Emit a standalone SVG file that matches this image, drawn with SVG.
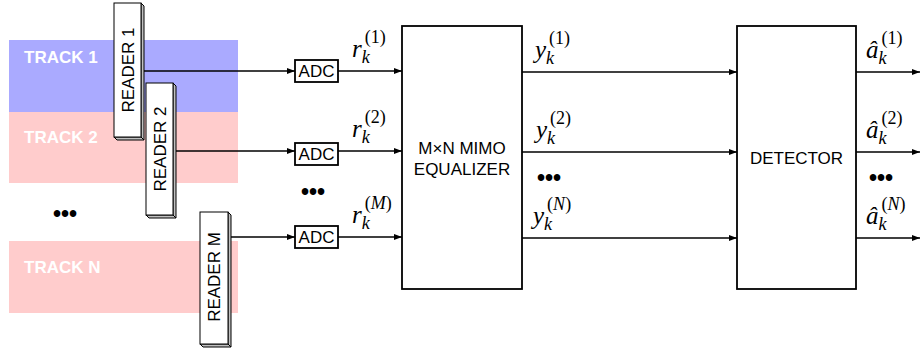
<svg xmlns="http://www.w3.org/2000/svg" width="920" height="354" viewBox="0 0 920 354">
<style>
.track-label{font-family:"Liberation Sans",Arial,sans-serif;font-weight:bold;font-size:17px;fill:#ffffff}
.lbl{font-family:"Liberation Sans",Arial,sans-serif;font-size:17px;fill:#000}
.math{font-family:"Liberation Serif","DejaVu Serif",serif;font-style:italic;font-size:25px;fill:#000}
.sub{font-size:18px}
.up{font-style:normal}
.dots{font-family:"Liberation Sans",Arial,sans-serif;font-weight:bold;font-size:23px;fill:#000}
.box{fill:#fff;stroke:#000;stroke-width:1.8}
.face{fill:#fff;stroke:#000;stroke-width:1}
.side{fill:#c0c0c0;stroke:#000;stroke-width:1}
.wire{stroke:#000;stroke-width:1.6;fill:none}
</style>
<defs>
<marker id="arr" markerWidth="8" markerHeight="6" refX="8" refY="3" orient="auto" markerUnits="userSpaceOnUse">
<path d="M0,0 L8,3 L0,6 Z" fill="#000"/>
</marker>
</defs>
<g id="tracks">
<rect x="9" y="40" width="229" height="72" fill="#aaaaff"/>
<rect x="9" y="112" width="229" height="71" fill="#ffcccc"/>
<rect x="9" y="241" width="229" height="72" fill="#ffcccc"/>
<text class="track-label" x="24" y="63">TRACK 1</text>
<text class="track-label" x="24" y="143">TRACK 2</text>
<text class="track-label" x="24" y="273">TRACK N</text>
<text class="dots" x="53" y="222">•••</text>
</g>
<g id="connectors">
<line class="wire" x1="144" y1="71" x2="295" y2="71" marker-end="url(#arr)"/>
<line class="wire" x1="176" y1="151" x2="295" y2="151" marker-end="url(#arr)"/>
<line class="wire" x1="231" y1="237" x2="295" y2="237" marker-end="url(#arr)"/>
<line class="wire" x1="338" y1="71" x2="402" y2="71" marker-end="url(#arr)"/>
<line class="wire" x1="338" y1="151" x2="402" y2="151" marker-end="url(#arr)"/>
<line class="wire" x1="338" y1="237" x2="402" y2="237" marker-end="url(#arr)"/>
<line class="wire" x1="522" y1="72" x2="737" y2="72" marker-end="url(#arr)"/>
<line class="wire" x1="522" y1="152" x2="737" y2="152" marker-end="url(#arr)"/>
<line class="wire" x1="522" y1="238" x2="737" y2="238" marker-end="url(#arr)"/>
<line class="wire" x1="856" y1="72" x2="920" y2="72" marker-end="url(#arr)"/>
<line class="wire" x1="856" y1="152" x2="920" y2="152" marker-end="url(#arr)"/>
<line class="wire" x1="856" y1="238" x2="920" y2="238" marker-end="url(#arr)"/>
</g>
<g id="reader1">
<polygon class="side" points="141,3 144,6 144,140 141,137"/>
<polygon class="side" points="114,137 141,137 144,140 117,140"/>
<rect class="face" x="114" y="3" width="27" height="134"/>
<text class="lbl" transform="translate(134,70) rotate(-90)" text-anchor="middle">READER 1</text>
</g>
<g id="reader2">
<polygon class="side" points="173,83 176,86 176,218 173,215"/>
<polygon class="side" points="146,215 173,215 176,218 149,218"/>
<rect class="face" x="146" y="83" width="27" height="132"/>
<text class="lbl" transform="translate(166,149) rotate(-90)" text-anchor="middle">READER 2</text>
</g>
<g id="readerM">
<polygon class="side" points="228,212 231,215 231,347 228,344"/>
<polygon class="side" points="200,344 228,344 231,347 203,347"/>
<rect class="face" x="200" y="212" width="28" height="132"/>
<text class="lbl" transform="translate(220,277) rotate(-90)" text-anchor="middle">READER M</text>
</g>
<g id="adc1">
<rect class="box" x="295" y="60" width="43" height="22"/>
<text class="lbl" x="316.5" y="77" text-anchor="middle">ADC</text>
</g>
<g id="adc2">
<rect class="box" x="295" y="143" width="43" height="22"/>
<text class="lbl" x="316.5" y="160" text-anchor="middle">ADC</text>
</g>
<g id="adcM">
<rect class="box" x="295" y="226" width="43" height="22"/>
<text class="lbl" x="316.5" y="243" text-anchor="middle">ADC</text>
</g>
<g id="labels-r">
<text class="math" x="352" y="57">r<tspan class="sub" dy="6">k</tspan><tspan class="up sub" dx="-5" dy="-20">(1)</tspan></text>
<text class="math" x="352" y="137">r<tspan class="sub" dy="6">k</tspan><tspan class="up sub" dx="-5" dy="-20">(2)</tspan></text>
<text class="math" x="352" y="223">r<tspan class="sub" dy="6">k</tspan><tspan class="sub" dx="-5" dy="-20"><tspan class="up">(</tspan>M<tspan class="up">)</tspan></tspan></text>
<text class="dots" x="301" y="200">•••</text>
</g>
<g id="equalizer">
<rect class="box" x="402" y="26" width="120" height="263"/>
<text class="lbl" x="462" y="154" text-anchor="middle">M×N MIMO</text>
<text class="lbl" x="462" y="175" text-anchor="middle">EQUALIZER</text>
</g>
<g id="labels-y">
<text class="math" x="535" y="58">y<tspan class="sub" dy="6">k</tspan><tspan class="up sub" dx="-5" dy="-20">(1)</tspan></text>
<text class="math" x="536" y="138">y<tspan class="sub" dy="6">k</tspan><tspan class="up sub" dx="-5" dy="-20">(2)</tspan></text>
<text class="math" x="533" y="224">y<tspan class="sub" dy="6">k</tspan><tspan class="sub" dx="-5" dy="-20"><tspan class="up">(</tspan>N<tspan class="up">)</tspan></tspan></text>
<text class="dots" x="537" y="186">•••</text>
</g>
<g id="detector">
<rect class="box" x="737" y="26" width="119" height="263"/>
<text class="lbl" x="796.5" y="164" text-anchor="middle">DETECTOR</text>
</g>
<g id="labels-a">
<text class="math" x="866" y="58">â<tspan class="sub" dy="6">k</tspan><tspan class="up sub" dx="-5" dy="-20">(1)</tspan></text>
<text class="math" x="866" y="138">â<tspan class="sub" dy="6">k</tspan><tspan class="up sub" dx="-5" dy="-20">(2)</tspan></text>
<text class="math" x="866" y="224">â<tspan class="sub" dy="6">k</tspan><tspan class="sub" dx="-5" dy="-20"><tspan class="up">(</tspan>N<tspan class="up">)</tspan></tspan></text>
<text class="dots" x="869" y="186">•••</text>
</g>
</svg>
